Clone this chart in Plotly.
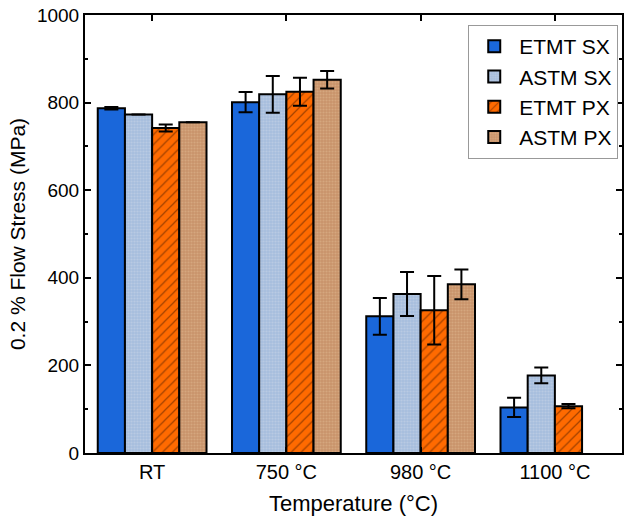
import plotly.graph_objects as go

# Temperatures and series
categories = ["RT", "750 °C", "980 °C", "1100 °C"]

etmt_sx = [787, 801, 312, 104]
etmt_sx_err = [3, 23, 42, 22]

astm_sx = [773, 819, 363, 177]
astm_sx_err = [0, 42, 50, 18]

etmt_px = [742, 825, 326, 107]
etmt_px_err = [8, 32, 78, 5]

astm_px = [755, 852, 385, None]
astm_px_err = [0, 20, 34, 0]

FONT = "Liberation Sans, Arial, sans-serif"

series = [
    ("ETMT SX", etmt_sx, etmt_sx_err, "#1a67da", dict(shape="")),
    ("ASTM SX", astm_sx, astm_sx_err, "#a7bedd",
     dict(shape=".", fgcolor="#c9d6ea", size=3, solidity=0.4)),
    ("ETMT PX", etmt_px, etmt_px_err, "#ff6a00",
     dict(shape="/", fgcolor="#4a1a00", size=7, solidity=0.18)),
    ("ASTM PX", astm_px, astm_px_err, "#c8946a",
     dict(shape=".", fgcolor="#e2b894", size=3, solidity=0.4)),
]

fig = go.Figure()
for name, vals, errs, color, pattern in series:
    fig.add_trace(go.Bar(
        name=name,
        x=categories,
        y=vals,
        marker=dict(color=color, line=dict(color="black", width=2), pattern=pattern),
        error_y=dict(type="data", array=errs, visible=True,
                     color="black", thickness=2, width=7),
    ))

fig.update_layout(
    width=628, height=520,
    margin=dict(l=85, r=4, t=15, b=67),
    paper_bgcolor="white", plot_bgcolor="white",
    barmode="group", bargap=0.19, bargroupgap=0,
    font=dict(family=FONT, size=18, color="black"),
    legend=dict(
        x=0.993, y=0.977, xanchor="right", yanchor="top",
        bgcolor="white", bordercolor="#999999", borderwidth=1,
        font=dict(size=21, family=FONT), tracegroupgap=0,
        itemwidth=40,
    ),
)

fig.update_xaxes(
    title=dict(text="Temperature (°C)", font=dict(size=22), standoff=14),
    showline=True, linecolor="black", linewidth=2, mirror="ticks",
    ticks="inside", ticklen=6, tickwidth=2, tickcolor="black",
    tickfont=dict(size=20), showgrid=False,
)

fig.update_yaxes(
    title=dict(text="0.2 % Flow Stress (MPa)", font=dict(size=21), standoff=6),
    range=[0, 1000], tickvals=[0, 200, 400, 600, 800, 1000],
    showline=True, linecolor="black", linewidth=2, mirror="ticks",
    ticks="inside", ticklen=6, tickwidth=2, tickcolor="black",
    minor=dict(tickvals=[100, 300, 500, 700, 900], ticks="inside",
               ticklen=3, tickwidth=1.5, tickcolor="black"),
    tickfont=dict(size=19), showgrid=False, zeroline=False,
)

fig.write_html("out.html")
